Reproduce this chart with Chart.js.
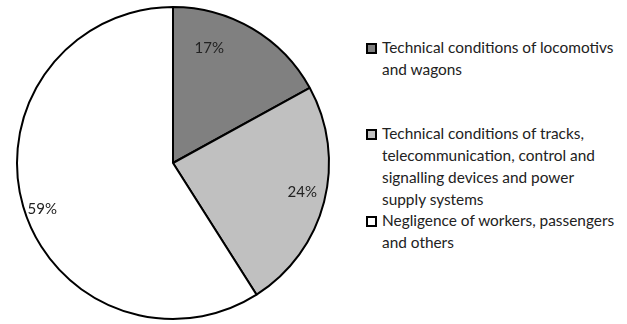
<!DOCTYPE html>
<html>
<head>
<meta charset="utf-8">
<script src="https://cdn.jsdelivr.net/npm/chart.js@4"></script>
<style>
  html, body { margin: 0; padding: 0; background: #fff; }
  #wrap { position: relative; width: 627px; height: 324px; }
  #pieBox { position: absolute; left: 0; top: 0; width: 346px; height: 324px; }
  #legend { position: absolute; left: 366px; top: 37px; width: 260px; white-space: nowrap;
            font-family: Lato, "Open Sans", sans-serif; font-size: 15.4px; color: #222; }
  .item { position: relative; padding-left: 16px; line-height: 21.7px; }
  .box { position: absolute; left: 0; top: 6px; width: 7px; height: 7px; border: 2px solid #000; }
</style>
</head>
<body>
<div id="wrap">
  <div id="pieBox"><canvas id="chart1"></canvas></div>
  <div id="legend"></div>
</div>
<script>
const labels = [
  ['Technical conditions of locomotivs', 'and wagons'],
  ['Technical conditions of tracks,', 'telecommunication, control and', 'signalling devices and power', 'supply systems'],
  ['Negligence of workers, passengers', 'and others']
];
const values = [17, 24, 59];
const colors = ['#808080', '#c0c0c0', '#ffffff'];

// where each % label sits: angle shift (deg) from slice middle, radius fraction
const labelPos = [[-13, 0.77], [-1.5, 0.85], [-3.4, 0.89]];
// gap above each legend entry
const legendGaps = [0, 43, 0];

function buildLegend() {
  const lg = document.getElementById('legend');
  labels.forEach((lines, i) => {
    const d = document.createElement('div');
    d.className = 'item';
    d.style.marginTop = legendGaps[i] + 'px';
    d.innerHTML = '<span class="box" style="background:' + colors[i] + '"></span>' + lines.join('<br>');
    lg.appendChild(d);
  });
}

const pctLabels = {
  id: 'pctLabels',
  afterDatasetsDraw(chart) {
    const ctx = chart.ctx;
    const meta = chart.getDatasetMeta(0);
    ctx.save();
    ctx.font = '15px Lato, "Open Sans", sans-serif';
    ctx.fillStyle = '#222';
    ctx.textAlign = 'center';
    ctx.textBaseline = 'middle';
    meta.data.forEach((arc, i) => {
      const p = arc.getProps(['x', 'y', 'startAngle', 'endAngle', 'outerRadius']);
      const a = (p.startAngle + p.endAngle) / 2 + labelPos[i][0] * Math.PI / 180;
      const r = p.outerRadius * labelPos[i][1];
      ctx.fillText(values[i] + '%', p.x + Math.cos(a) * r, p.y + Math.sin(a) * r);
    });
    ctx.restore();
  }
};

function buildChart() {
  new Chart(document.getElementById('chart1'), {
    type: 'pie',
    data: {
      labels: labels.map(l => l.join(' ')),
      datasets: [{ data: values, backgroundColor: colors, borderColor: '#000',
                   borderWidth: 2, hoverOffset: 0, offset: 0 }]
    },
    options: {
      responsive: true,
      maintainAspectRatio: false,
      animation: false,
      layout: { padding: { left: 16, right: 16, top: 6, bottom: 4 } },
      plugins: { legend: { display: false }, tooltip: { enabled: false } }
    },
    plugins: [pctLabels]
  });
}

buildLegend();
buildChart();
</script>
</body>
</html>
